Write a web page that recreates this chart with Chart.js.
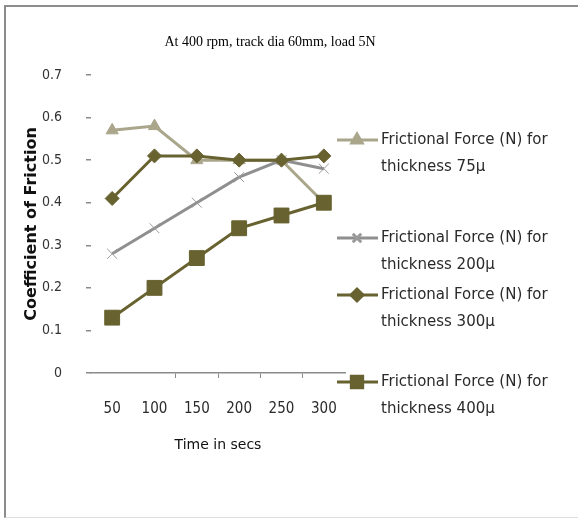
<!DOCTYPE html>
<html>
<head>
<meta charset="utf-8">
<script src="https://cdn.jsdelivr.net/npm/chart.js@4"></script>
<style>
  html, body { margin: 0; padding: 0; background: #fff; }
  #wrap { position: relative; width: 578px; height: 518px; }
  #frame { position: absolute; left: 4px; top: 5px; right: 0; bottom: 0;
           border-left: 2px solid #8c8c8c; border-top: 2px solid #8c8c8c;
           border-bottom: 1px solid #dddddd; pointer-events: none; }
</style>
</head>
<body>
<div id="wrap">
  <canvas id="lineChart" width="578" height="518"></canvas>
  <div id="frame"></div>
</div>
<script>
var chartTitle = 'At 400 rpm, track dia 60mm, load 5N';
var times = ['50', '100', '150', '200', '250', '300'];
var friction75 = [0.57, 0.58, 0.50, 0.50, 0.50, 0.40];
var friction200 = [0.28, 0.34, 0.40, 0.46, 0.50, 0.48];
var friction300 = [0.41, 0.51, 0.51, 0.50, 0.50, 0.51];
var friction400 = [0.13, 0.20, 0.27, 0.34, 0.37, 0.40];
var seriesNames = [
    ['Frictional Force (N) for', 'thickness 75μ'],
    ['Frictional Force (N) for', 'thickness 200μ'],
    ['Frictional Force (N) for', 'thickness 300μ'],
    ['Frictional Force (N) for', 'thickness 400μ']
];

var khaki = '#aaa68c';
var grey = '#8f8f8f';
var olive = '#67622f';
var narrow = '"DejaVu Sans Condensed", "Liberation Sans Narrow", sans-serif';

// legend on the right, drawn by hand because the rows are not evenly spaced
var sideLegend = {
    id: 'sideLegend',
    afterDraw: function (chart) {
        var ctx = chart.ctx;
        var rows = [140, 238, 295, 382];
        ctx.save();
        ctx.fillStyle = '#000';
        ctx.font = '14px "Liberation Serif", serif';
        ctx.textAlign = 'center';
        ctx.textBaseline = 'middle';
        ctx.fillText(chartTitle, 270, 42);

        chart.data.datasets.forEach(function (ds, i) {
            var y = rows[i];
            ctx.strokeStyle = ds.borderColor;
            ctx.lineWidth = ds.borderWidth;
            ctx.beginPath();
            ctx.moveTo(337, y);
            ctx.lineTo(378, y);
            ctx.stroke();
            ctx.fillStyle = ds.pointBackgroundColor;
            ctx.strokeStyle = ds.pointBorderColor;
            Chart.helpers.drawPoint(ctx, {
                pointStyle: ds.pointStyle,
                radius: ds.legendRadius,
                borderWidth: ds.pointBorderWidth,
                rotation: 0
            }, 357, y);
            ctx.fillStyle = '#2a2a2a';
            ctx.font = '15px "DejaVu Sans", sans-serif';
            ctx.textAlign = 'left';
            ctx.fillText(seriesNames[i][0], 381, y);
            ctx.fillText(seriesNames[i][1], 381, y + 27);
        });
        ctx.restore();
    }
};

var ctx = document.getElementById('lineChart').getContext('2d');
var myChart = new Chart(ctx, {
    type: 'line',
    data: {
        labels: times,
        datasets: [{
            label: seriesNames[0].join(' '),
            data: friction75,
            borderColor: khaki,
            backgroundColor: khaki,
            pointBackgroundColor: khaki,
            pointBorderColor: khaki,
            pointStyle: 'triangle',
            pointRadius: 7,
            legendRadius: 6,
            pointBorderWidth: 1,
            borderWidth: 3,
            order: 3
        }, {
            label: seriesNames[1].join(' '),
            data: friction200,
            borderColor: grey,
            backgroundColor: grey,
            pointBackgroundColor: grey,
            pointBorderColor: '#9a9a9a',
            pointStyle: 'crossRot',
            pointRadius: 7,
            legendRadius: 6,
            pointBorderWidth: 1,
            borderWidth: 3,
            order: 2
        }, {
            label: seriesNames[2].join(' '),
            data: friction300,
            borderColor: olive,
            backgroundColor: olive,
            pointBackgroundColor: olive,
            pointBorderColor: olive,
            pointStyle: 'rectRot',
            pointRadius: 7,
            legendRadius: 6,
            pointBorderWidth: 1,
            borderWidth: 3,
            order: 1
        }, {
            label: seriesNames[3].join(' '),
            data: friction400,
            borderColor: olive,
            backgroundColor: olive,
            pointBackgroundColor: olive,
            pointBorderColor: olive,
            pointStyle: 'rect',
            pointRadius: 10.5,
            legendRadius: 8,
            pointBorderWidth: 1,
            borderWidth: 3,
            order: 0
        }]
    },
    options: {
        responsive: false,
        animation: false,
        layout: { padding: { top: 75, right: 233, bottom: 0, left: 0 } },
        plugins: {
            legend: { display: false },
            title: { display: false },
            tooltip: { enabled: false }
        },
        scales: {
            x: {
                offset: true,
                afterFit: function (scale) { scale.height = 145; },
                border: { display: true, color: '#8a8a8a', width: 1.5 },
                grid: {
                    offset: true,
                    drawOnChartArea: false,
                    drawTicks: true,
                    tickLength: 5,
                    tickColor: function (c) {
                        return (c.index >= 2 && c.index <= 5) ? '#8a8a8a' : 'rgba(0,0,0,0)';
                    }
                },
                ticks: {
                    color: '#2a2a2a',
                    padding: 22,
                    maxRotation: 0,
                    font: { family: narrow, size: 15 }
                },
                title: {
                    display: true,
                    text: 'Time in secs',
                    color: '#111',
                    font: { family: '"DejaVu Sans", sans-serif', size: 14 },
                    padding: { top: 0, bottom: 64 }
                }
            },
            y: {
                min: 0,
                max: 0.7,
                afterFit: function (scale) { scale.width = 91; },
                border: { display: false },
                grid: {
                    drawOnChartArea: false,
                    drawTicks: true,
                    tickLength: 5,
                    tickColor: '#8a8a8a',
                    lineWidth: 1.5
                },
                ticks: {
                    stepSize: 0.1,
                    padding: 24,
                    color: '#333',
                    font: { family: narrow, size: 14 },
                    callback: function (v) { return Math.round(v * 10) / 10; }
                },
                title: {
                    display: true,
                    text: 'Coefficient of Friction',
                    color: '#111',
                    font: { family: '"DejaVu Sans", sans-serif', size: 16, weight: 'bold' },
                    padding: { top: 22, bottom: 0 }
                }
            }
        }
    },
    plugins: [sideLegend]
});
</script>
</body>
</html>
